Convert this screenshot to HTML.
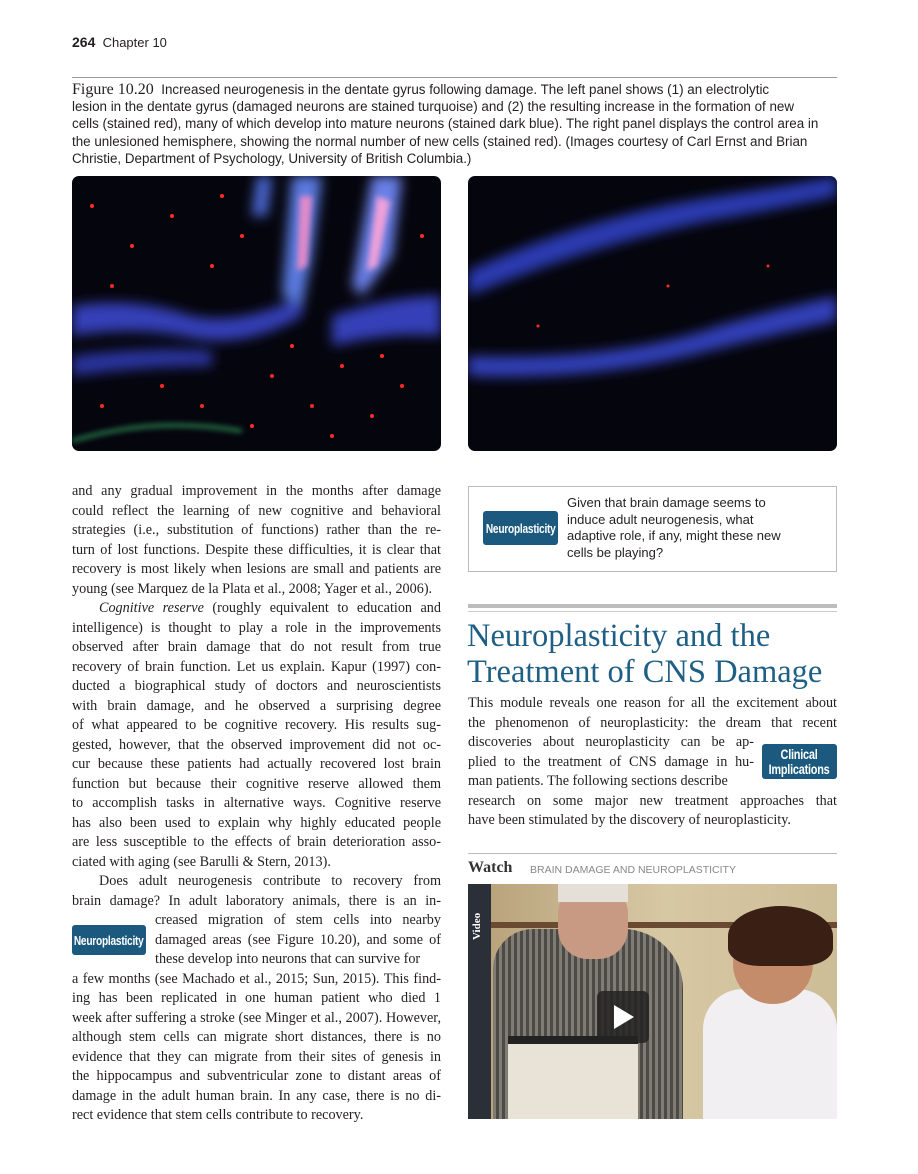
<!DOCTYPE html>
<html><head><meta charset="utf-8">
<style>
*{margin:0;padding:0;box-sizing:border-box}
body{width:918px;height:1174px;background:#fff;position:relative;overflow:hidden;font-family:"Liberation Serif",serif;color:#231f20}
.a{position:absolute}
.sans{font-family:"Liberation Sans",sans-serif}
.cap{position:absolute;left:72px;width:770px;font-family:"Liberation Sans",sans-serif;font-size:13.4px;line-height:17.2px;color:#231f20;white-space:nowrap}
.l{position:absolute;left:72px;width:369px;font-size:14.2px;line-height:19.5px;text-align:justify;text-align-last:justify;white-space:nowrap;height:20px}
.r{position:absolute;left:468px;width:369px;font-size:14.2px;line-height:19.5px;text-align:justify;text-align-last:justify;white-space:nowrap;height:20px}
.e{text-align-last:left}
.badge{position:absolute;background:#1b5a7e;color:#fff;font-family:"Liberation Sans",sans-serif;font-weight:bold;border-radius:3px;display:flex;align-items:center;justify-content:center;text-align:center;letter-spacing:-0.3px}
.badge span{display:inline-block;transform:scaleX(0.78);white-space:nowrap}
</style></head><body>
<div class="a sans" style="left:72px;top:34px;font-size:13px"><b style="font-size:14px">264</b>&nbsp; Chapter 10</div>
<div class="a" style="left:72px;top:77px;width:765px;height:1px;background:#999"></div>
<div class="cap" style="top:81px"><span style="font-family:'Liberation Serif',serif;font-size:16px">Figure 10.20</span>&nbsp; Increased neurogenesis in the dentate gyrus following damage. The left panel shows (1) an electrolytic<br>lesion in the dentate gyrus (damaged neurons are stained turquoise) and (2) the resulting increase in the formation of new<br>cells (stained red), many of which develop into mature neurons (stained dark blue). The right panel displays the control area in<br>the unlesioned hemisphere, showing the normal number of new cells (stained red). (Images courtesy of Carl Ernst and Brian<br>Christie, Department of Psychology, University of British Columbia.)</div>

<svg class="a" style="left:72px;top:176px;border-radius:7px" width="369" height="275">
<defs><filter id="bl"><feGaussianBlur stdDeviation="6"/></filter><filter id="b2"><feGaussianBlur stdDeviation="3"/></filter></defs>
<rect width="369" height="275" fill="#05050d"/>
<g filter="url(#bl)">
<path d="M0 130 Q60 120 120 140 Q170 150 230 120 L230 140 Q170 175 110 160 Q60 150 0 160Z" fill="#3540b8"/>
<path d="M0 180 Q80 170 140 175 L140 190 Q70 190 0 200Z" fill="#2a35a0"/>
<path d="M260 140 Q320 120 369 120 L369 160 Q320 155 260 170Z" fill="#3540b8"/>
<path d="M220 0 L250 0 L240 80 L230 130 L210 120Z" fill="#5a7ae0"/>
<path d="M300 0 L330 0 L320 80 L290 120 L280 110Z" fill="#6a80e8"/>
<path d="M185 0 L200 0 L195 40 L180 40Z" fill="#4e6ad8"/>
</g>
<g filter="url(#b2)">
<path d="M228 20 L240 20 L235 90 L225 95Z" fill="#e28ac8"/>
<path d="M305 20 L318 25 L305 90 L295 95Z" fill="#f0a0d8"/>
<path d="M0 265 Q80 240 170 255" stroke="#30a060" stroke-width="3" fill="none"/>
</g>
<g fill="#ff2a2a">
<circle cx="20" cy="30" r="2"/><circle cx="60" cy="70" r="2"/><circle cx="100" cy="40" r="2"/><circle cx="140" cy="90" r="2"/><circle cx="170" cy="60" r="2"/><circle cx="90" cy="210" r="2"/><circle cx="130" cy="230" r="2"/><circle cx="200" cy="200" r="2"/><circle cx="240" cy="230" r="2"/><circle cx="270" cy="190" r="2"/><circle cx="300" cy="240" r="2"/><circle cx="330" cy="210" r="2"/><circle cx="350" cy="60" r="2"/><circle cx="40" cy="110" r="2"/><circle cx="220" cy="170" r="2"/><circle cx="180" cy="250" r="2"/><circle cx="310" cy="180" r="2"/><circle cx="260" cy="260" r="2"/><circle cx="30" cy="230" r="2"/><circle cx="150" cy="20" r="2"/>
</g>
</svg>

<svg class="a" style="left:468px;top:176px;border-radius:7px" width="369" height="275">
<rect width="369" height="275" fill="#05050d"/>
<g filter="url(#bl)">
<path d="M0 95 Q120 40 250 20 Q320 10 369 0 L369 20 Q300 35 240 45 Q120 70 0 120Z" fill="#2a3ab0"/>
<path d="M0 180 Q150 185 250 150 Q320 130 369 120 L369 145 Q300 160 240 175 Q130 205 0 200Z" fill="#3040b8"/>
</g>
<g fill="#ff2a2a"><circle cx="70" cy="150" r="1.5"/><circle cx="200" cy="110" r="1.5"/><circle cx="300" cy="90" r="1.5"/></g>
</svg>

<div>
<div class="l" style="top:482px">and any gradual improvement in the months after damage</div>
<div class="l" style="top:501.5px">could reflect the learning of new cognitive and behavioral</div>
<div class="l" style="top:521px">strategies (i.e., substitution of functions) rather than the re-</div>
<div class="l" style="top:540.5px">turn of lost functions. Despite these difficulties, it is clear that</div>
<div class="l" style="top:560px">recovery is most likely when lesions are small and patients are</div>
<div class="l e" style="top:579.5px">young (see Marquez de la Plata et al., 2008; Yager et al., 2006).</div>
<div class="l" style="top:599px;padding-left:27px"><i>Cognitive reserve</i> (roughly equivalent to education and</div>
<div class="l" style="top:618.5px">intelligence) is thought to play a role in the improvements</div>
<div class="l" style="top:638px">observed after brain damage that do not result from true</div>
<div class="l" style="top:657.5px">recovery of brain function. Let us explain. Kapur (1997) con-</div>
<div class="l" style="top:677px">ducted a biographical study of doctors and neuroscientists</div>
<div class="l" style="top:696.5px">with brain damage, and he observed a surprising degree</div>
<div class="l" style="top:716px">of what appeared to be cognitive recovery. His results sug-</div>
<div class="l" style="top:735.5px">gested, however, that the observed improvement did not oc-</div>
<div class="l" style="top:755px">cur because these patients had actually recovered lost brain</div>
<div class="l" style="top:774.5px">function but because their cognitive reserve allowed them</div>
<div class="l" style="top:794px">to accomplish tasks in alternative ways. Cognitive reserve</div>
<div class="l" style="top:813.5px">has also been used to explain why highly educated people</div>
<div class="l" style="top:833px">are less susceptible to the effects of brain deterioration asso-</div>
<div class="l e" style="top:852.5px">ciated with aging (see Barulli &amp; Stern, 2013).</div>
<div class="l" style="top:872px;padding-left:27px">Does adult neurogenesis contribute to recovery from</div>
<div class="l" style="top:891.5px">brain damage? In adult laboratory animals, there is an in-</div>
<div class="l" style="top:911px;left:155px;width:286px">creased migration of stem cells into nearby</div>
<div class="l" style="top:930.5px;left:155px;width:286px">damaged areas (see Figure 10.20), and some of</div>
<div class="l e" style="top:950px;left:155px;width:286px">these develop into neurons that can survive for</div>
<div class="l" style="top:969.5px">a few months (see Machado et al., 2015; Sun, 2015). This find-</div>
<div class="l" style="top:989px">ing has been replicated in one human patient who died 1</div>
<div class="l" style="top:1008.5px">week after suffering a stroke (see Minger et al., 2007). However,</div>
<div class="l" style="top:1028px">although stem cells can migrate short distances, there is no</div>
<div class="l" style="top:1047.5px">evidence that they can migrate from their sites of genesis in</div>
<div class="l" style="top:1067px">the hippocampus and subventricular zone to distant areas of</div>
<div class="l" style="top:1086.5px">damage in the adult human brain. In any case, there is no di-</div>
<div class="l e" style="top:1106px">rect evidence that stem cells contribute to recovery.</div>
</div>
<div class="badge" style="left:72px;top:925px;width:74px;height:30px;font-size:13px"><span>Neuroplasticity</span></div>

<div class="a" style="left:468px;top:486px;width:369px;height:86px;border:1px solid #bbb"></div>
<div class="badge" style="left:483px;top:511px;width:75px;height:34px;font-size:13px"><span>Neuroplasticity</span></div>
<div class="a sans" style="left:567px;top:495px;font-size:13px;line-height:16.5px;color:#231f20">Given that brain damage seems to<br>induce adult neurogenesis, what<br>adaptive role, if any, might these new<br>cells be playing?</div>

<div class="a" style="left:468px;top:604px;width:369px;height:4px;background:#bdbdbd"></div>
<div class="a" style="left:468px;top:611px;width:369px;height:1px;background:#ccc"></div>
<div class="a" style="left:467px;top:618px;font-size:32.5px;line-height:36px;color:#1f5f85;white-space:nowrap">Neuroplasticity and the<br>Treatment of CNS Damage</div>

<div>
<div class="r" style="top:694px">This module reveals one reason for all the excitement about</div>
<div class="r" style="top:713.5px">the phenomenon of neuroplasticity: the dream that recent</div>
<div class="r" style="width:286px;top:733px">discoveries about neuroplasticity can be ap-</div>
<div class="r" style="width:286px;top:752.5px">plied to the treatment of CNS damage in hu-</div>
<div class="r e" style="width:286px;top:772px">man patients. The following sections describe</div>
<div class="r" style="top:791.5px">research on some major new treatment approaches that</div>
<div class="r e" style="top:811px">have been stimulated by the discovery of neuroplasticity.</div>
</div>
<div class="badge" style="left:762px;top:744px;width:75px;height:35px;font-size:14px;line-height:15px"><span>Clinical<br>Implications</span></div>

<div class="a" style="left:468px;top:853px;width:369px;height:1px;background:#bbb"></div>
<div class="a" style="left:468px;top:859px;font-size:16px;font-weight:bold;color:#333">Watch</div>
<div class="a sans" style="left:530px;top:864px;font-size:10.5px;color:#888">BRAIN DAMAGE AND NEUROPLASTICITY</div>

<div class="a" style="left:468px;top:884px;width:369px;height:235px;overflow:hidden;background:#c9b68e">
<div class="a" style="left:0;top:0;width:23px;height:235px;background:#2b2f38"></div>
<div class="a" style="left:3px;top:56px;transform:rotate(-90deg);transform-origin:left top;color:#fff;font-size:11px;font-weight:bold">Video</div>
<div class="a" style="left:23px;top:0;width:346px;height:235px;background:linear-gradient(90deg,#b9a47c,#d7c8a4 50%,#cdbd97)"></div>
<div class="a" style="left:23px;top:38px;width:346px;height:6px;background:#6a4a30"></div>
<div class="a" style="left:25px;top:45px;width:190px;height:190px;border-radius:40px 60px 0 0;background:repeating-linear-gradient(90deg,#807c74 0 3px,#4c4a46 3px 6px)"></div>
<div class="a" style="left:90px;top:0;width:70px;height:75px;border-radius:30px;background:#c89a84"></div>
<div class="a" style="left:90px;top:0;width:70px;height:18px;background:#e4e0d8"></div>
<div class="a" style="left:40px;top:155px;width:130px;height:80px;background:#e8e3d6"></div>
<div class="a" style="left:40px;top:152px;width:130px;height:8px;background:#222"></div>
<div class="a" style="left:235px;top:105px;width:134px;height:130px;border-radius:40px 40px 0 0;background:#f1eff2"></div>
<div class="a" style="left:265px;top:40px;width:80px;height:80px;border-radius:50%;background:#c58c6c"></div>
<div class="a" style="left:260px;top:22px;width:105px;height:60px;border-radius:50% 50% 30% 30%;background:#3a1f14"></div>
<div class="a" style="left:129px;top:107px;width:52px;height:52px;border-radius:6px;background:rgba(35,35,35,.85)"></div>
<div class="a" style="left:146px;top:121px;width:0;height:0;border-top:12px solid transparent;border-bottom:12px solid transparent;border-left:20px solid #fff"></div>
</div>
</body></html>
